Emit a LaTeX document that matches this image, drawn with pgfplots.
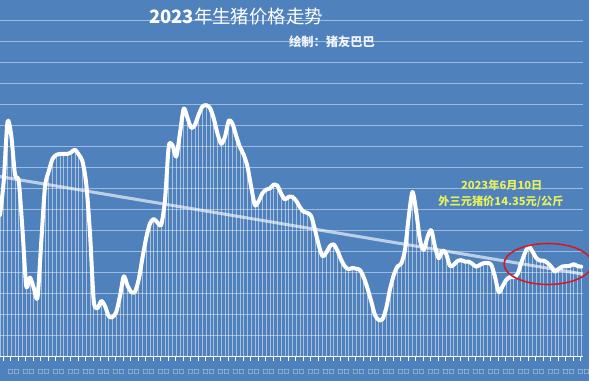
\documentclass[border=0pt]{standalone}
\usepackage{pgfplots}
\pgfplotsset{compat=1.18}
\usepackage{pgfplotstable}
\usepackage{fontspec}
\newfontfamily\cjk{Noto Sans CJK SC}
\newfontfamily\dejavu{DejaVu Sans}
\definecolor{bg}{RGB}{79,129,189}
\definecolor{gridc}{RGB}{155,186,225}
\definecolor{annot}{RGB}{232,240,90}
\definecolor{ring}{RGB}{205,30,40}

\pgfplotstableread{
i v
0 16.76
1 18.38
2 21.19
3 20.55
4 18.69
5 18.36
6 16.05
7 13.38
8 13.78
9 13.29
10 12.83
11 15.48
12 18.10
13 18.84
14 19.43
15 19.62
16 19.67
17 19.67
18 19.67
19 19.75
20 19.87
21 19.64
22 19.31
23 18.24
24 15.90
25 12.67
26 12.33
27 12.67
28 12.43
29 11.94
30 11.90
31 12.14
32 12.90
33 13.84
34 13.40
35 13.09
36 13.10
37 13.70
38 14.73
39 15.68
40 16.36
41 16.57
42 16.40
43 16.30
44 17.48
45 20.02
46 20.08
47 19.54
48 20.67
49 21.83
50 21.38
51 20.91
52 21.05
53 21.55
54 21.93
55 21.99
56 21.86
57 21.36
58 20.64
59 20.15
60 20.49
61 21.25
62 21.11
63 20.52
64 19.99
65 19.63
66 19.06
67 18.08
68 17.22
69 17.43
70 17.80
71 17.97
72 18.03
73 18.21
74 18.15
75 17.77
76 17.50
77 17.63
78 17.62
79 17.43
80 17.13
81 16.91
82 16.86
83 16.70
84 16.05
85 15.33
86 14.80
87 14.97
88 15.28
89 15.36
90 15.06
91 14.62
92 14.31
93 14.18
94 14.24
95 14.20
96 14.14
97 13.79
98 13.27
99 12.65
100 12.00
101 11.76
102 11.80
103 12.33
104 13.23
105 13.90
106 14.31
107 14.45
108 15.10
109 16.68
110 17.86
111 16.91
112 15.57
113 15.10
114 15.71
115 16.04
116 15.25
117 14.70
118 15.07
119 14.90
120 14.33
121 14.39
122 14.57
123 14.61
124 14.54
125 14.54
126 14.43
127 14.30
128 14.39
129 14.47
130 14.48
131 14.39
132 13.82
133 13.08
134 13.36
135 13.67
136 13.81
137 13.80
138 13.95
139 14.48
140 14.96
141 15.26
142 15.02
143 14.72
144 14.59
145 14.59
146 14.48
147 14.30
148 14.06
149 14.20
150 14.31
151 14.33
152 14.34
153 14.42
154 14.33
155 14.30
}\pricedata

\begin{document}
\begin{tikzpicture}[x=0.75pt,y=0.75pt]
\useasboundingbox (0,-24) rectangle (589,357);
\clip (0,-24) rectangle (589,357);
\fill[bg] (0,-24) rectangle (589,357);
\begin{axis}[
  at={(0,0)}, anchor=south west, scale only axis,
  width=437.25pt, height=267.75pt,
  xmin=0, xmax=155.47, ymin=10, ymax=27,
  axis line style={draw=none},
  xtick={0.9,2.9,...,155}, xticklabels={},
  xtick pos=bottom, ytick pos=left,
  tick align=outside, major tick length=3pt,
  xtick style={white, line width=0.6pt},
  ytick={10,11,...,27}, yticklabels={},
  ytick style={draw=none},
  ymajorgrids, grid style={draw=gridc, line width=0.75pt},
  clip=true,
]
\addplot[ycomb, draw=white, opacity=0.5, line width=0.4pt] table[x=i, y=v] {\pricedata};
\addplot[draw=white, opacity=0.62, line width=2.3pt] coordinates {(0,18.59) (155.47,13.95)};
\addplot[draw=white, line width=3pt, line join=round, line cap=round, smooth, tension=0.45] table[x=i, y=v] {\pricedata};
\draw[white, line width=1.1pt] (rel axis cs:0,0) -- (rel axis cs:1,0);
\end{axis}
\draw[ring, line width=1.2pt] (548,93) ellipse [x radius=44, y radius=20.5];
\node[font=\cjk\fontsize{13.8}{15}\selectfont, text=white] at (236,340.3) {{\bfseries 2023}年生猪价格走势};
\node[font=\cjk\bfseries\fontsize{9.2}{11}\selectfont, text=white!92!bg] at (332,315.3) {绘制：猪友巴巴};
\node[font=\cjk\bfseries\fontsize{8.4}{10}\selectfont, text=annot] at (501.7,172) {2023年6月10日};
\node[font=\cjk\bfseries\fontsize{8.4}{10}\selectfont, text=annot] at (501,155.3) {外三元猪价14.35元/公斤};
\foreach \k in {0,...,38} \node[font=\dejavu\fontsize{4.6}{5}\selectfont, text=white!90!bg, inner sep=0] at ({13.5+15*\k},-15.3) {□□};
\end{tikzpicture}
\end{document}
